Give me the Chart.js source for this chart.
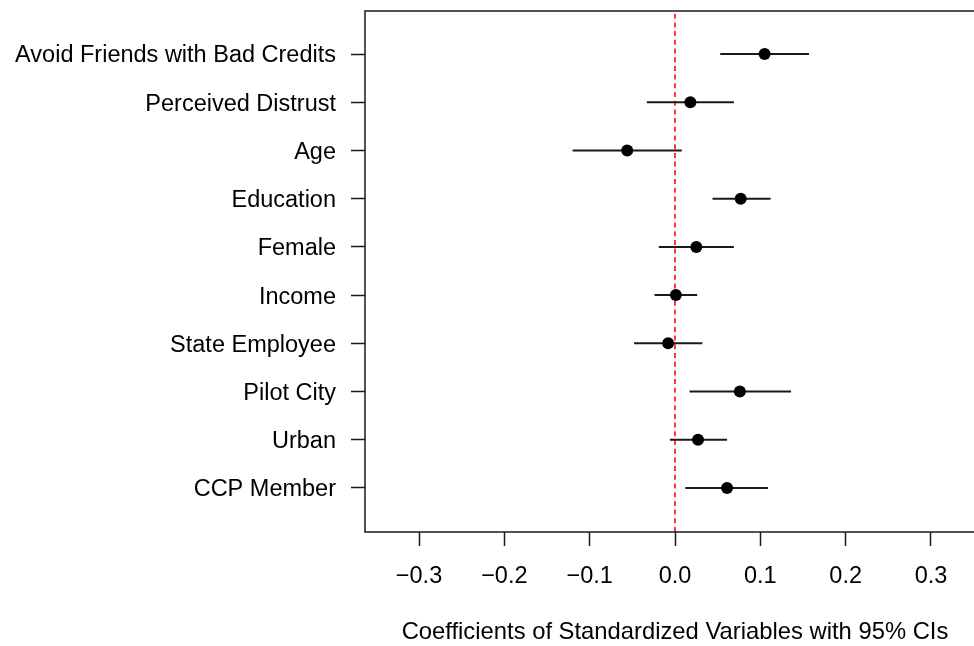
<!DOCTYPE html>
<html>
<head>
<meta charset="utf-8">
<script src="https://cdn.jsdelivr.net/npm/chart.js@4.4.1/dist/chart.umd.min.js"></script>
<style>
  html, body { margin: 0; padding: 0; background: #fff; overflow: hidden; }
  #wrap { position: relative; width: 1000px; height: 646px; }
</style>
</head>
<body>
<div id="wrap"><canvas id="coef-chart"></canvas></div>
<script>
// variables, top to bottom
const variableNames = ['Avoid Friends with Bad Credits', 'Perceived Distrust', 'Age', 'Education', 'Female',
    'Income', 'State Employee', 'Pilot City', 'Urban', 'CCP Member'];
const estimates = [0.105, 0.018, -0.056, 0.077, 0.025, 0.001, -0.008, 0.076, 0.027, 0.061];
const ciLower = [0.053, -0.033, -0.120, 0.044, -0.019, -0.024, -0.048, 0.017, -0.006, 0.012];
const ciUpper = [0.157, 0.069, 0.008, 0.112, 0.069, 0.026, 0.032, 0.136, 0.061, 0.109];
const xTickValues = [-0.3, -0.2, -0.1, 0.0, 0.1, 0.2, 0.3];
const xTitle = 'Coefficients of Standardized Variables with 95% CIs';

const X_MIN = -0.3633, X_MAX = 0.3633;
const Y_MIN = 0.0875, Y_MAX = 10.892;
const FONT = { family: '"Liberation Sans", Arial, Helvetica, sans-serif', size: 23.5 };
const INK = '#1a1a1a';

const rowPos = i => variableNames.length - i;

// one short segment per confidence interval
const ciDatasets = variableNames.map((name, i) => ({
    type: 'line', label: name + ' CI',
    data: [{ x: ciLower[i], y: rowPos(i) }, { x: ciUpper[i], y: rowPos(i) }],
    borderColor: INK, borderWidth: 2, pointRadius: 0, fill: false, order: 2
}));

const zeroLine = {
    type: 'line', label: 'zero',
    data: [{ x: 0, y: Y_MIN }, { x: 0, y: Y_MAX }],
    borderColor: '#ff3838', borderWidth: 2, borderDash: [5, 3.7], pointRadius: 0, fill: false, order: 3
};

const pointSet = {
    type: 'scatter', label: 'estimate',
    data: estimates.map((v, i) => ({ x: v, y: rowPos(i) })),
    backgroundColor: '#000', borderColor: '#000', borderWidth: 0, pointRadius: 6, order: 1
};

// frame around plot region (right side falls off the page, as in the original)
const framePlugin = {
    id: 'frame',
    afterDatasetsDraw(chart) {
        const { ctx, chartArea: a } = chart;
        ctx.save();
        ctx.strokeStyle = INK;
        ctx.lineWidth = 1.5;
        ctx.strokeRect(a.left, a.top, a.right - a.left, a.bottom - a.top);
        ctx.restore();
    }
};

new Chart(document.getElementById('coef-chart').getContext('2d'), {
    type: 'scatter',
    data: { datasets: [zeroLine, ...ciDatasets, pointSet] },
    options: {
        responsive: true, maintainAspectRatio: false, animation: false,
        layout: { padding: { left: 0, top: 11, right: 15, bottom: 0 } },
        plugins: { legend: { display: false }, tooltip: { enabled: false } },
        scales: {
            x: {
                type: 'linear', min: X_MIN, max: X_MAX,
                afterBuildTicks: s => { s.ticks = xTickValues.map(v => ({ value: v })); },
                afterFit: s => { s.height = 114; s.paddingLeft = 0; s.paddingRight = 0; },
                ticks: {
                    color: '#000', font: FONT, padding: 16, maxRotation: 0, autoSkip: false,
                    callback: v => (v < 0 ? '\u2212' : '') + Math.abs(v).toFixed(1)
                },
                grid: { drawOnChartArea: false, drawTicks: true, tickLength: 14, tickColor: INK, tickWidth: 1.5 },
                border: { display: false },
                title: { display: true, text: xTitle, color: '#000', font: { ...FONT, size: 23.8 }, padding: { top: 0, bottom: -1 } }
            },
            y: {
                type: 'linear', min: Y_MIN, max: Y_MAX,
                afterBuildTicks: s => { s.ticks = variableNames.map((n, i) => ({ value: rowPos(i) })); },
                afterFit: s => { s.width = 365; s.paddingTop = 0; s.paddingBottom = 0; },
                ticks: {
                    color: '#000', font: FONT, padding: 15, autoSkip: false, labelOffset: 2,
                    callback: v => variableNames[variableNames.length - v]
                },
                grid: { drawOnChartArea: false, drawTicks: true, tickLength: 14, tickColor: INK, tickWidth: 1.5 },
                border: { display: false }
            }
        }
    },
    plugins: [framePlugin]
});
</script>
</body>
</html>
